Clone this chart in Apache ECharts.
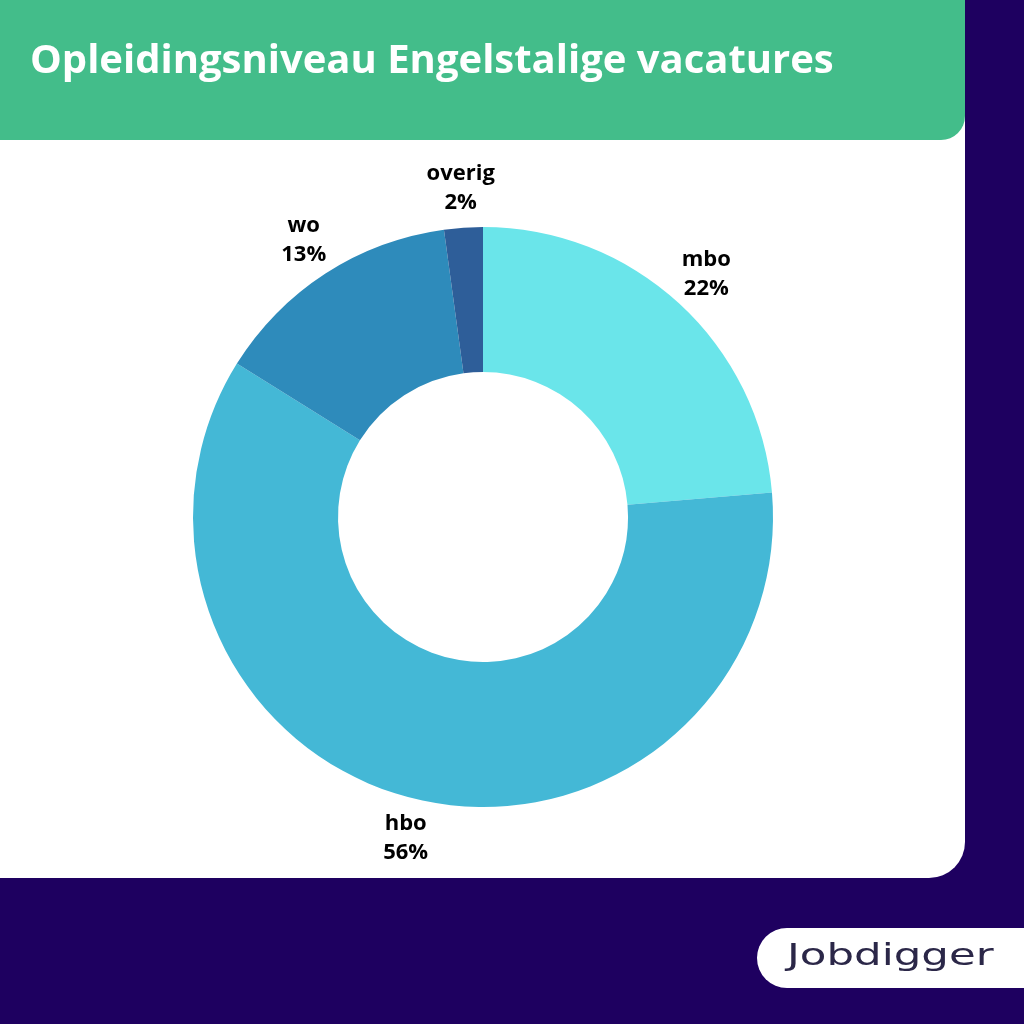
<!DOCTYPE html>
<html><head><meta charset="utf-8">
<script src="https://cdn.jsdelivr.net/npm/echarts@6/dist/echarts.min.js"></script>
<style>html,body{margin:0;padding:0;background:#1e0060;}#c{width:1024px;height:1024px;}</style>
</head><body><div id="c"></div>
<script>
const categories = ['mbo', 'hbo', 'wo', 'overig'];
const values = [22, 56, 13, 2];
const colors = ['#6ae5ea', '#44b8d6', '#2e8bbb', '#2e5e99'];
const titleText = 'Opleidingsniveau Engelstalige vacatures';

const data = categories.map((c, i) => ({ name: c, value: values[i], itemStyle: { color: colors[i] } }));
const labelData = categories.map((c, i) => ({ name: c, value: values[i] }));

const chart = echarts.init(document.getElementById('c'), null, { renderer: 'canvas' });
chart.setOption({
  backgroundColor: '#1e0060',
  animation: false,
  graphic: [
    { type: 'rect', z: -10, shape: { x: 0, y: -40, width: 965, height: 918, r: [0, 0, 36, 0] }, style: { fill: '#ffffff' } },
    { type: 'rect', z: -9, shape: { x: 0, y: -40, width: 965, height: 180, r: [0, 0, 24, 0] }, style: { fill: '#43bd8a' } },
    { type: 'text', z: 5, left: 30, top: 42, style: { text: titleText, fill: '#ffffff', font: 'bold 40px "Open Sans", sans-serif' } },
    { type: 'rect', z: -9, shape: { x: 757, y: 928, width: 300, height: 60, r: [30, 0, 0, 30] }, style: { fill: '#ffffff' } },
    { type: 'text', z: 5, x: 787, y: 957, scaleX: 1.45, scaleY: 1, style: { x: 0, y: 0, text: 'Jobdigger', fill: '#2b2748', font: 'normal 30px "DejaVu Sans", sans-serif', textAlign: 'left', textVerticalAlign: 'middle', verticalAlign: 'middle' } }
  ],
  series: [
    {
      type: 'pie',
      center: [483, 517],
      radius: [145, 290],
      startAngle: 90,
      clockwise: true,
      silent: true,
      label: { show: false },
      labelLine: { show: false },
      data: data
    },
    {
      type: 'pie',
      center: [483, 517],
      radius: [322, 332],
      startAngle: 90,
      clockwise: true,
      silent: true,
      itemStyle: { color: 'rgba(0,0,0,0)' },
      label: {
        show: true,
        position: 'inside',
        formatter: p => p.name + '\n' + p.value + '%',
        color: '#000000',
        fontFamily: '"Open Sans", sans-serif',
        fontWeight: 'bold',
        fontSize: 22,
        lineHeight: 29,
        align: 'center'
      },
      labelLine: { show: false },
      data: labelData
    }
  ]
});
</script></body></html>
